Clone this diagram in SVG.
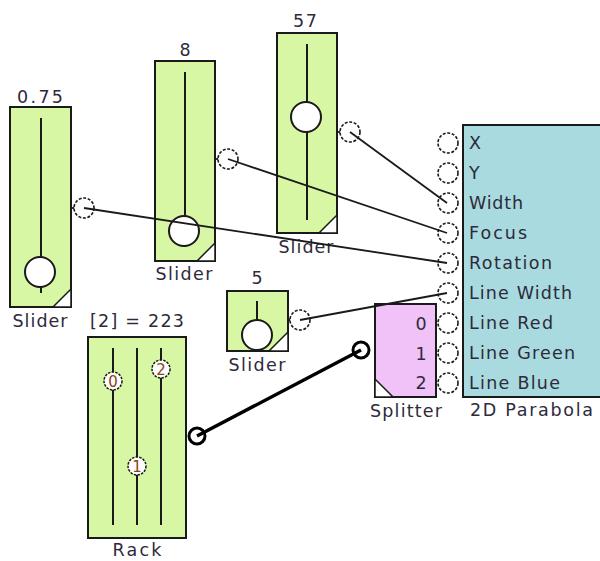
<svg xmlns="http://www.w3.org/2000/svg" width="600" height="561" viewBox="0 0 600 561">
<style>
text{font-family:"DejaVu Sans","Liberation Sans",sans-serif;font-size:17.5px;fill:#2e2a3a}
.c{text-anchor:middle}
.box{stroke:#1a1a1a;stroke-width:2}
.sl{fill:#d8f7a4}
.trk{stroke:#1a1a1a;stroke-width:2;fill:none}
.knob{fill:#fff;stroke:#1a1a1a;stroke-width:2}
.tri{fill:#fff;stroke:#1a1a1a;stroke-width:1.5}
.port{fill:none;stroke:#1a1a1a;stroke-width:1.6;stroke-dasharray:3 1.6}
.wire{stroke:#1a1a1a;stroke-width:1.8;fill:none}
.thick{stroke:#000;stroke-width:3.5;fill:none}
.rk{fill:#fff;stroke:#1a1a1a;stroke-width:1.5;stroke-dasharray:2.5 1.2}
.rkt{font-size:15px;fill:#8a4414;text-anchor:middle}
</style>
<rect width="600" height="561" fill="#fff"/>

<g id="slider1">
<text class="c" x="40" y="103" textLength="46">0.75</text>
<rect class="box sl" x="10" y="107" width="61" height="200"/>
<line class="trk" x1="41" y1="118" x2="41" y2="293"/>
<circle class="knob" cx="40" cy="272" r="15"/>
<path class="tri" d="M71 289 L71 307 L53 307 Z"/>
<line class="wire" x1="71" y1="208" x2="74" y2="208"/>
<circle class="port" cx="84" cy="208" r="10"/>
<text class="c" x="40" y="327" textLength="55">Slider</text>
</g>

<g id="slider2">
<text class="c" x="185" y="56">8</text>
<rect class="box sl" x="155" y="61" width="60" height="200"/>
<line class="trk" x1="185" y1="72" x2="185" y2="247"/>
<circle class="knob" cx="184" cy="231" r="15"/>
<path class="tri" d="M215 243 L215 261 L197 261 Z"/>
<line class="wire" x1="215" y1="159" x2="218" y2="159"/>
<circle class="port" cx="228" cy="159" r="10"/>
<text class="c" x="184" y="280" textLength="57">Slider</text>
</g>

<g id="slider3">
<text class="c" x="305" y="27" textLength="24">57</text>
<rect class="box sl" x="277" y="33" width="60" height="200"/>
<line class="trk" x1="307" y1="44" x2="307" y2="220"/>
<circle class="knob" cx="306" cy="117" r="15"/>
<path class="tri" d="M337 215 L337 233 L319 233 Z"/>
<line class="wire" x1="337" y1="132" x2="340" y2="132"/>
<circle class="port" cx="350" cy="132" r="10"/>
<text class="c" x="306" y="253" textLength="55">Slider</text>
</g>

<g id="slider4">
<text class="c" x="257" y="284">5</text>
<rect class="box sl" x="227" y="291" width="61" height="60"/>
<line class="trk" x1="257" y1="301" x2="257" y2="322"/>
<circle class="knob" cx="257" cy="335" r="15"/>
<path class="tri" d="M288 332 L288 351 L269 351 Z"/>
<line class="wire" x1="288" y1="320" x2="290" y2="320"/>
<circle class="port" cx="300" cy="320" r="10"/>
<text class="c" x="257" y="371" textLength="57">Slider</text>
</g>

<g id="rack">
<text class="c" x="137" y="327" textLength="94">[2] = 223</text>
<rect class="box sl" x="88" y="337" width="98" height="201"/>
<line class="trk" x1="113" y1="348" x2="113" y2="525"/>
<line class="trk" x1="137" y1="348" x2="137" y2="525"/>
<line class="trk" x1="161" y1="348" x2="161" y2="525"/>
<circle class="rk" cx="113" cy="381" r="9"/>
<text class="rkt" x="113" y="386.5">0</text>
<circle class="rk" cx="161" cy="369" r="9"/>
<text class="rkt" x="161" y="374.5">2</text>
<circle class="rk" cx="137" cy="466" r="9"/>
<text class="rkt" x="137" y="471.5">1</text>
<circle cx="197" cy="436" r="8" fill="none" stroke="#000" stroke-width="3"/>
<text class="c" x="137" y="556" textLength="49">Rack</text>
</g>

<g id="splitter">
<rect class="box" x="375" y="304" width="61" height="93" fill="#f0c2f8"/>
<path class="tri" d="M375 379 L375 397 L393 397 Z"/>
<text x="421" y="330" class="c">0</text>
<text x="421" y="360" class="c">1</text>
<text x="421" y="389" class="c">2</text>
<circle cx="361" cy="350" r="8" fill="none" stroke="#000" stroke-width="3"/>
<text class="c" x="406" y="417" textLength="72">Splitter</text>
</g>

<g id="parabola">
<rect class="box" x="463" y="125" width="150" height="272" fill="#a8dadf"/>
<circle class="port" cx="448" cy="143" r="10"/>
<circle class="port" cx="448" cy="173" r="10"/>
<circle class="port" cx="448" cy="203" r="10"/>
<circle class="port" cx="448" cy="233" r="10"/>
<circle class="port" cx="448" cy="263" r="10"/>
<circle class="port" cx="448" cy="293" r="10"/>
<circle class="port" cx="448" cy="323" r="10"/>
<circle class="port" cx="448" cy="353" r="10"/>
<circle class="port" cx="448" cy="383" r="10"/>
<text x="469" y="149">X</text>
<text x="469" y="179">Y</text>
<text x="469" y="209" textLength="54">Width</text>
<text x="469" y="239" textLength="58">Focus</text>
<text x="469" y="269" textLength="83">Rotation</text>
<text x="469" y="299" textLength="103">Line Width</text>
<text x="469" y="329" textLength="84">Line Red</text>
<text x="469" y="359" textLength="106">Line Green</text>
<text x="469" y="389" textLength="91">Line Blue</text>
<text x="470" y="416" textLength="123">2D Parabola</text>
</g>

<g id="connectors">
<line class="wire" x1="84" y1="208" x2="447" y2="263"/>
<line class="wire" x1="228" y1="159" x2="447" y2="233"/>
<line class="wire" x1="350" y1="132" x2="447" y2="203"/>
<line class="wire" x1="300" y1="320" x2="447" y2="293"/>
<line class="thick" x1="197" y1="436" x2="361" y2="350"/>
</g>
</svg>
